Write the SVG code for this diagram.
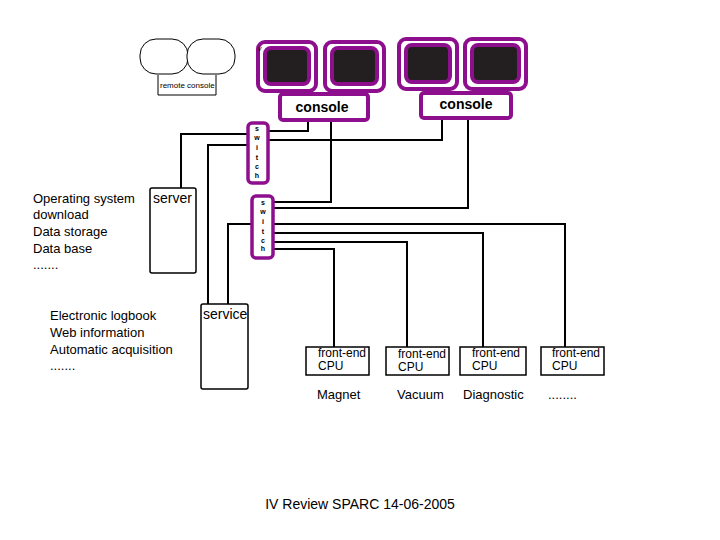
<svg xmlns="http://www.w3.org/2000/svg" width="720" height="540" viewBox="0 0 720 540">
<style>
.mon{fill:#fff;stroke:#8e0f8e;stroke-width:4}
.scr{fill:#231f20;stroke:#8e0f8e;stroke-width:4}
.con{fill:#fff;stroke:#8e0f8e;stroke-width:4}
.sw{fill:#fff;stroke:#8e0f8e;stroke-width:3.5}
.box{fill:#fff;stroke:#000;stroke-width:1.5}
.ln{fill:none;stroke:#000;stroke-width:2}
text{font-family:"Liberation Sans",Arial,sans-serif;fill:#000}
.t13{font-size:13px}
.t12{font-size:12px}
.bold{font-weight:bold;font-size:14px}
.swt{font-size:7px;font-weight:bold;text-anchor:middle}
</style>
<rect width="720" height="540" fill="#fff"/>
<g id="connectors">
<path class="ln" d="M308,121 V131 H269"/>
<path class="ln" d="M442,119 V140 H269"/>
<path class="ln" d="M331,121 V202 H274"/>
<path class="ln" d="M468,119 V208 H274"/>
<path class="ln" d="M248,134 H181 V188"/>
<path class="ln" d="M248,145 H208 V304"/>
<path class="ln" d="M252,224 H228 V304"/>
<path class="ln" d="M274,224 H565 V347"/>
<path class="ln" d="M274,233 H483 V347"/>
<path class="ln" d="M274,242 H407 V347"/>
<path class="ln" d="M274,249 H334 V347"/>
</g>
<g id="remote-console">
<rect x="140" y="39" width="48" height="35" rx="16" fill="#fff" stroke="#000" stroke-width="1"/>
<rect x="187" y="39" width="48" height="35" rx="16" fill="#fff" stroke="#000" stroke-width="1"/>
<path d="M158,75 V95 H216 V75" fill="none" stroke="#000" stroke-width="1"/>
<text x="160" y="88" font-size="8">remote console</text>
</g>
<g id="monitor1"><rect class="mon" x="258" y="42" width="58" height="49" rx="7"/><rect class="scr" x="265" y="48" width="44" height="36" rx="6"/><text x="258" y="51" font-size="7" font-style="italic">v</text></g>
<g id="monitor2"><rect class="mon" x="325" y="42" width="59" height="49" rx="7"/><rect class="scr" x="332" y="48" width="45" height="36" rx="6"/></g>
<g id="monitor3"><rect class="mon" x="399" y="39" width="58" height="50" rx="7"/><rect class="scr" x="406" y="45" width="44" height="37" rx="6"/></g>
<g id="monitor4"><rect class="mon" x="465" y="39" width="61" height="50" rx="7"/><rect class="scr" x="472" y="45" width="47" height="37" rx="6"/></g>
<g id="console1"><rect class="con" x="280" y="94" width="88" height="26" rx="3"/><text class="bold" x="322" y="112" text-anchor="middle">console</text></g>
<g id="console2"><rect class="con" x="421" y="93" width="90" height="25" rx="3"/><text class="bold" x="466" y="109" text-anchor="middle">console</text></g>
<g id="switch1"><rect class="sw" x="248" y="123" width="20" height="60" rx="4"/>
<text class="swt" x="257" y="131">s</text><text class="swt" x="257" y="140">w</text><text class="swt" x="257" y="150">i</text><text class="swt" x="257" y="160">t</text><text class="swt" x="257" y="169">c</text><text class="swt" x="257" y="178">h</text></g>
<g id="switch2"><rect class="sw" x="252" y="196" width="21" height="62" rx="4"/>
<text class="swt" x="263" y="205">s</text><text class="swt" x="263" y="214">w</text><text class="swt" x="263" y="224">i</text><text class="swt" x="263" y="234">t</text><text class="swt" x="263" y="243">c</text><text class="swt" x="263" y="251">h</text></g>
<g id="server"><rect class="box" x="150" y="188" width="46" height="85" rx="2"/><text x="153" y="203" font-size="14">server</text></g>
<g id="service"><rect class="box" x="201" y="304" width="47" height="85" rx="2"/><text x="203" y="319" font-size="14">service</text></g>
<g id="server-notes" class="t13">
<text x="33" y="203">Operating system</text>
<text x="33" y="219">download</text>
<text x="33" y="236">Data storage</text>
<text x="33" y="253">Data base</text>
<text x="33" y="269">.......</text>
</g>
<g id="service-notes" class="t13">
<text x="50" y="320">Electronic logbook</text>
<text x="50" y="337">Web information</text>
<text x="50" y="354">Automatic acquisition</text>
<text x="50" y="370">.......</text>
</g>
<g id="cpu1"><rect class="box" x="306" y="347" width="63" height="28"/><text class="t12" x="318" y="357">front-end</text><text class="t12" x="318" y="370">CPU</text></g>
<g id="cpu2"><rect class="box" x="386" y="347" width="63" height="28"/><text class="t12" x="398" y="358">front-end</text><text class="t12" x="398" y="371">CPU</text></g>
<g id="cpu3"><rect class="box" x="460" y="347" width="66" height="28"/><text class="t12" x="472" y="357">front-end</text><text class="t12" x="472" y="370">CPU</text></g>
<g id="cpu4"><rect class="box" x="541" y="347" width="63" height="28"/><text class="t12" x="552" y="357">front-end</text><text class="t12" x="552" y="370">CPU</text></g>
<g id="labels" class="t13">
<text x="317" y="399">Magnet</text>
<text x="397" y="399">Vacuum</text>
<text x="463" y="399">Diagnostic</text>
<text x="548" y="399">........</text>
</g>
<text x="360" y="509" font-size="14" text-anchor="middle">IV Review SPARC 14-06-2005</text>
</svg>
